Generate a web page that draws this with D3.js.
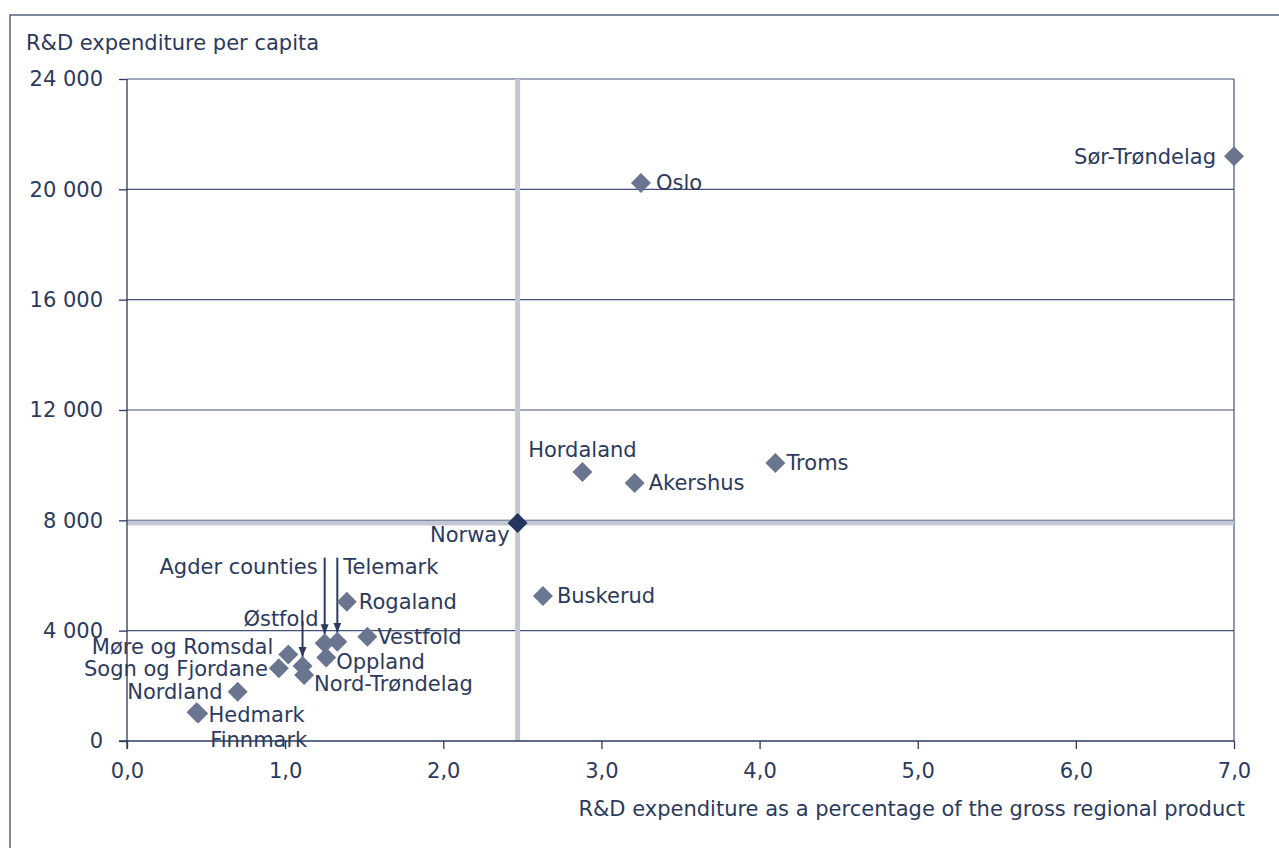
<!DOCTYPE html>
<html><head><meta charset="utf-8">
<script src="https://cdn.jsdelivr.net/npm/d3@7"></script>
<style>body{margin:0;background:#fff}svg{display:block}text{font-family:"DejaVu Sans",Verdana,sans-serif}</style>
</head><body><svg id="c" width="1279" height="848"></svg>
<script>
const regions = ["Sør-Trøndelag","Oslo","Hordaland","Akershus","Troms","Buskerud","Rogaland","Vestfold","Telemark","Agder counties","Oppland","Østfold","Nord-Trøndelag","Møre og Romsdal","Sogn og Fjordane","Nordland","Hedmark","Finnmark"];
const pctGRP = [7.0,3.25,2.88,3.21,4.10,2.63,1.39,1.52,1.33,1.25,1.26,1.11,1.12,1.02,0.96,0.70,0.44,0.45];
const perCapita = [21200,20230,9750,9350,10080,5260,5050,3780,3600,3540,3030,2720,2390,3140,2640,1790,1040,1000];
const norway = {name:"Norway", pct:2.47, perCapita:7900};
const xTicks = [0,1,2,3,4,5,6,7];
const yTicks = [0,4000,8000,12000,16000,20000,24000];
const arrowRegions = ["Agder counties","Telemark","Østfold"];

const svg = d3.select("#c");
const textCol = "#2b3a5e", markCol = "#6a7590", gridCol = "#44527a";
const x = d3.scaleLinear().domain([0,7]).range([127,1234]);
const y = d3.scaleLinear().domain([0,24000]).range([741,79]);
const fs = 21;

// outer frame
svg.append("rect").attr("x",10).attr("y",15).attr("width",1300).attr("height",900)
  .attr("fill","none").attr("stroke","#3a4a6e").attr("stroke-width",1.3);

// gridlines
svg.append("g").selectAll("line").data(yTicks.filter(d=>d>0)).join("line")
  .attr("x1",x(0)).attr("x2",x(7)).attr("y1",d=>y(d)).attr("y2",d=>y(d))
  .attr("stroke",gridCol).attr("stroke-width",1.2);
svg.append("line").attr("x1",x(7)).attr("x2",x(7)).attr("y1",y(24000)).attr("y2",y(0))
  .attr("stroke",gridCol).attr("stroke-width",1.2);

// Norway reference lines
svg.append("line").attr("x1",x(norway.pct)).attr("x2",x(norway.pct)).attr("y1",y(24000)).attr("y2",y(0))
  .attr("stroke","#c3c8d3").attr("stroke-width",5);
svg.append("line").attr("x1",x(0)).attr("x2",x(7)).attr("y1",y(norway.perCapita)).attr("y2",y(norway.perCapita))
  .attr("stroke","#c3c8d3").attr("stroke-width",5);

// axes
const yAxis = svg.append("g").attr("transform",`translate(${x(0)},0)`)
  .call(d3.axisLeft(y).tickValues(yTicks).tickSize(8).tickPadding(16)
    .tickFormat(d=>d3.format(",")(d).replace(/,/g," ")));
const xAxis = svg.append("g").attr("transform",`translate(0,${y(0)})`)
  .call(d3.axisBottom(x).tickValues(xTicks).tickSize(8).tickPadding(14)
    .tickFormat(d=>d3.format(".1f")(d).replace(".",",")));
[yAxis,xAxis].forEach(a=>{
  a.select(".domain").attr("stroke",textCol).attr("stroke-width",1.3);
  a.selectAll(".tick line").attr("stroke",textCol).attr("stroke-width",1.3);
  a.selectAll(".tick text").attr("fill",textCol).style("font-size",fs+"px")
   .style("font-family","DejaVu Sans, Verdana, sans-serif");
});
yAxis.select(".domain").attr("d",`M0,${y(24000)}V${y(0)+8}`);
xAxis.select(".domain").attr("d",`M${x(0)-8},0H${x(7)}`);

// axis titles
svg.append("text").attr("x",26).attr("y",43).attr("dy","0.35em").attr("fill",textCol)
  .style("font-size",fs+"px").text("R&D expenditure per capita");
svg.append("text").attr("x",1245).attr("y",809).attr("dy","0.35em").attr("text-anchor","end").attr("fill",textCol)
  .style("font-size",fs+"px").text("R&D expenditure as a percentage of the gross regional product");

// arrows
const defs = svg.append("defs");
defs.append("marker").attr("id","ah").attr("viewBox","0 0 10 10").attr("refX",10).attr("refY",5)
  .attr("markerWidth",5).attr("markerHeight",5).attr("orient","auto")
  .append("path").attr("d","M0,1L10,5L0,9Z").attr("fill",textCol);
const arrowTop = {"Agder counties":6650,"Telemark":6650,"Østfold":4350};
const data = regions.map((r,i)=>({name:r,pct:pctGRP[i],v:perCapita[i]}));
svg.append("g").selectAll("line").data(data.filter(d=>arrowRegions.includes(d.name))).join("line")
  .attr("x1",d=>x(d.pct)).attr("x2",d=>x(d.pct))
  .attr("y1",d=>y(arrowTop[d.name])).attr("y2",d=>y(d.v)-9)
  .attr("stroke",textCol).attr("stroke-width",2).attr("marker-end","url(#ah)");

// markers
const diamond = d3.symbol().type(d3.symbolSquare).size(200);
svg.append("g").selectAll("path").data(data).join("path")
  .attr("d",diamond).attr("transform",d=>`translate(${x(d.pct)},${y(d.v)}) rotate(45)`)
  .attr("fill",markCol);
svg.append("path").attr("d",diamond)
  .attr("transform",`translate(${x(norway.pct)},${y(norway.perCapita)}) rotate(45)`)
  .attr("fill","#24365e");

// labels: [dx, dy, anchor] offsets relative to each point
const labelPos = {
  "Sør-Trøndelag":[-18,0,"end"], "Oslo":[15,0,"start"], "Hordaland":[0,-22,"middle"],
  "Akershus":[14,0,"start"], "Troms":[11,0,"start"], "Buskerud":[14,0,"start"],
  "Rogaland":[12,0,"start"], "Vestfold":[10,0,"start"], "Telemark":[6,-75,"start"],
  "Agder counties":[-7,-77,"end"], "Oppland":[10,4,"start"], "Østfold":[16,-47,"end"],
  "Nord-Trøndelag":[10,9,"start"], "Møre og Romsdal":[-15,-8,"end"],
  "Sogn og Fjordane":[-11,0,"end"], "Nordland":[-15,0,"end"],
  "Hedmark":[12,2,"start"], "Finnmark":[12,26,"start"]
};
svg.append("g").selectAll("text").data(data).join("text")
  .attr("x",d=>x(d.pct)+labelPos[d.name][0]).attr("y",d=>y(d.v)+labelPos[d.name][1])
  .attr("dy","0.35em").attr("text-anchor",d=>labelPos[d.name][2])
  .attr("fill",textCol).style("font-size",fs+"px").text(d=>d.name);
svg.append("text").attr("x",x(norway.pct)-8).attr("y",y(norway.perCapita)+12).attr("dy","0.35em")
  .attr("text-anchor","end").attr("fill",textCol).style("font-size",fs+"px").text(norway.name);
</script></body></html>
